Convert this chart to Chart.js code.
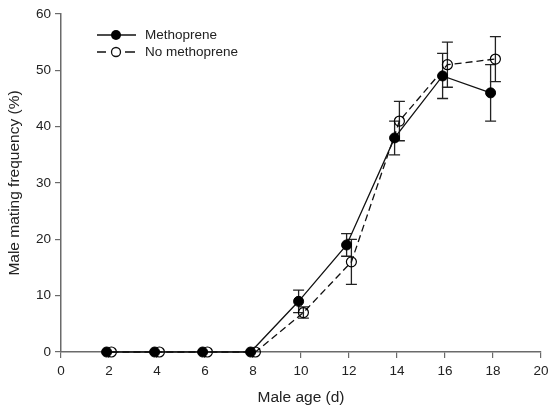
<!DOCTYPE html>
<html>
<head>
<meta charset="utf-8">
<script src="https://cdn.jsdelivr.net/npm/chart.js@4/dist/chart.umd.min.js"></script>
<style>
html,body{margin:0;padding:0;background:#fff;}
#wrap{width:548px;height:407px;position:relative;}
</style>
</head>
<body>
<div id="wrap"><canvas id="c" width="548" height="407"></canvas></div>
<script>
const ages = [2, 4, 6, 8, 10, 12, 14, 16, 18];
const methopreneValues = [0, 0, 0, 0, 9, 19, 38, 49, 46];
const methopreneErrors = [0, 0, 0, 0, 2, 2, 3, 4, 5];
const noMethopreneValues = [0, 0, 0, 0, 7, 16, 41, 51, 52];
const noMethopreneErrors = [0, 0, 0, 0, 1, 4, 3.5, 4, 4];
const xTicks = [0, 2, 4, 6, 8, 10, 12, 14, 16, 18, 20];
const yTicks = [0, 10, 20, 30, 40, 50, 60];
const seriesNames = ['Methoprene', 'No methoprene'];

const FONT = "'Liberation Sans', Arial, sans-serif";
const AXIS = '#6a6a6a';
const TXT = '#222';
const OFFSET = 0.1;

function pts(vals, off) { return ages.map((a, i) => ({x: a + off, y: vals[i]})); }

const errorBars = {
  id: 'errorBars',
  beforeDatasetsDraw(chart) {
    const ctx = chart.ctx, xs = chart.scales.x, ys = chart.scales.y;
    const errs = [methopreneErrors, noMethopreneErrors];
    ctx.save();
    ctx.strokeStyle = '#222';
    ctx.lineWidth = 1.3;
    chart.data.datasets.forEach((ds, di) => {
      ds.data.forEach((p, i) => {
        const e = errs[di][i];
        if (!e) return;
        const px = xs.getPixelForValue(p.x);
        const t = ys.getPixelForValue(p.y + e), b = ys.getPixelForValue(p.y - e);
        ctx.beginPath();
        ctx.moveTo(px, t); ctx.lineTo(px, b);
        ctx.moveTo(px - 5.5, t); ctx.lineTo(px + 5.5, t);
        ctx.moveTo(px - 5.5, b); ctx.lineTo(px + 5.5, b);
        ctx.stroke();
      });
    });
    ctx.restore();
  }
};

const legendPlugin = {
  id: 'customLegend',
  afterDraw(chart) {
    const ctx = chart.ctx;
    ctx.save();
    ctx.strokeStyle = '#111';
    ctx.lineWidth = 1.3;
    let y = 35;
    ctx.beginPath(); ctx.moveTo(97, y); ctx.lineTo(136, y); ctx.stroke();
    ctx.beginPath(); ctx.arc(116, y, 5, 0, Math.PI * 2); ctx.fillStyle = '#000'; ctx.fill();
    y = 52;
    ctx.beginPath(); ctx.moveTo(97, y); ctx.lineTo(106, y); ctx.moveTo(125, y); ctx.lineTo(135, y); ctx.stroke();
    ctx.beginPath(); ctx.arc(116, y, 4.5, 0, Math.PI * 2); ctx.stroke();
    ctx.fillStyle = TXT;
    ctx.font = '13.5px ' + FONT;
    ctx.textBaseline = 'middle';
    ctx.fillText(seriesNames[0], 145, 35);
    ctx.fillText(seriesNames[1], 145, 52);
    ctx.restore();
  }
};

new Chart(document.getElementById('c'), {
  type: 'line',
  data: {
    datasets: [
      {
        label: seriesNames[0],
        data: pts(methopreneValues, -OFFSET),
        borderColor: '#111', borderWidth: 1.3,
        pointRadius: 5, pointBackgroundColor: '#000', pointBorderColor: '#000', pointBorderWidth: 1,
        clip: false, tension: 0
      },
      {
        label: seriesNames[1],
        data: pts(noMethopreneValues, OFFSET),
        borderColor: '#111', borderWidth: 1.3, borderDash: [7, 4],
        pointRadius: 5, pointBackgroundColor: 'rgba(0,0,0,0)', pointBorderColor: '#000', pointBorderWidth: 1.2,
        clip: false, tension: 0
      }
    ]
  },
  options: {
    responsive: false,
    animation: false,
    devicePixelRatio: 1,
    layout: {padding: {top: 14, right: 7, left: 0, bottom: 0}},
    plugins: {legend: {display: false}, tooltip: {enabled: false}},
    scales: {
      x: {
        type: 'linear', min: 0, max: 20,
        afterBuildTicks(s) { s.ticks = xTicks.map(v => ({value: v})); },
        afterFit(s) { s.height = 55; s.paddingLeft = 0; s.paddingRight = 0; },
        grid: {display: true, drawOnChartArea: false, drawTicks: true, tickLength: 6, color: AXIS, lineWidth: 1.2},
        border: {display: true, color: AXIS, width: 1.5},
        ticks: {color: TXT, font: {family: FONT, size: 13.5}, padding: 5, maxRotation: 0, autoSkip: false},
        title: {display: true, text: 'Male age (d)', color: TXT, font: {family: FONT, size: 15.5}, padding: {top: 0, bottom: 0}}
      },
      y: {
        min: 0, max: 60,
        afterBuildTicks(s) { s.ticks = yTicks.map(v => ({value: v})); },
        afterFit(s) { s.width = 61; s.paddingTop = 0; s.paddingBottom = 0; },
        grid: {display: true, drawOnChartArea: false, drawTicks: true, tickLength: 6, color: AXIS, lineWidth: 1.2},
        border: {display: true, color: AXIS, width: 1.5},
        ticks: {color: TXT, font: {family: FONT, size: 13.5}, padding: 4},
        title: {display: true, text: 'Male mating frequency (%)', color: TXT, font: {family: FONT, size: 15.5}, padding: {top: 5, bottom: 0}}
      }
    }
  },
  plugins: [errorBars, legendPlugin]
});
</script>
</body>
</html>
